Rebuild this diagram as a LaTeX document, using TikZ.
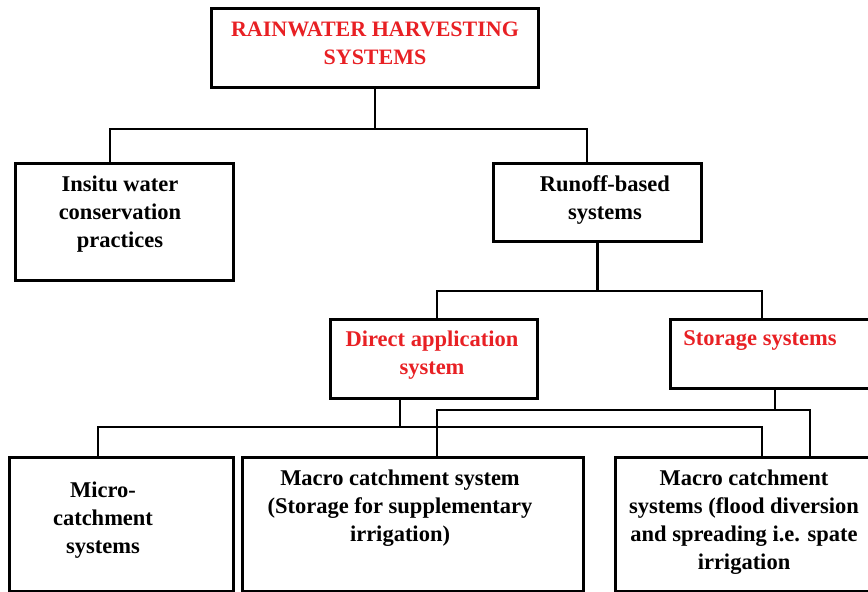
\documentclass[tikz,border=0pt]{standalone}
\usepackage{fontspec}
\setmainfont{Liberation Serif}
\definecolor{rwred}{RGB}{232,32,36}
\begin{document}
\begin{tikzpicture}[x=1pt,y=-1pt,
  box/.style={draw=black, line width=2.8pt, rectangle, inner sep=0pt, anchor=north west},
  txt/.style={font=\bfseries\fontsize{22.5}{28}\selectfont, align=center, inner sep=0pt},
  rtxt/.style={txt, text=rwred},
  con/.style={line width=2.4pt}]
\useasboundingbox (0,0) rectangle (868,592);
% boxes
\node[box, minimum width=327, minimum height=79] (top) at (210,7) {};
\node[box, minimum width=218, minimum height=117] (insitu) at (14,162) {};
\node[box, minimum width=208, minimum height=78] (runoff) at (492,162) {};
\node[box, minimum width=207, minimum height=79] (direct) at (329,318) {};
\node[box, minimum width=210, minimum height=69] (storage) at (669,318) {};
\node[box, minimum width=224, minimum height=134] (micro) at (8,456) {};
\node[box, minimum width=341, minimum height=134] (macro) at (241,456) {};
\node[box, minimum width=265, minimum height=134] (macrosys) at (614,456) {};
% texts
\node[rtxt, font=\bfseries\fontsize{22}{28}\selectfont] (toptxt) at (375,43) {RAINWATER HARVESTING\\SYSTEMS};
\node[txt] (insitutxt) at (120,214) {Insitu water\\conservation\\practices};
\node[txt] (runofftxt) at (605,200) {Runoff-based\\systems};
\node[rtxt] (directtxt) at (432,355) {Direct application\\system};
\node[rtxt] (storagetxt) at (760,341) {Storage systems};
\node[txt] (microtxt) at (103,520) {Micro-\\catchment\\systems};
\node[txt] (macrotxt) at (400,508) {Macro catchment system\\(Storage for supplementary\\irrigation)};
\node[txt] (macrosystxt) at (744,522) {Macro catchment\\systems (flood diversion\\and spreading i.e. spate\\irrigation};
% junctions
\coordinate (a1) at (110,129); \coordinate (a2) at (587,129);
\coordinate (b1) at (437,291); \coordinate (b2) at (762,291);
\coordinate (c0) at (400,427); \coordinate (c1) at (98,427); \coordinate (c2) at (762,427);
\coordinate (d0) at (775,410); \coordinate (d1) at (437,410); \coordinate (d2) at (810,410);
% connectors
\draw[con] (top.south) -- (top.south |- a1);
\draw[con] (insitu.north -| a1) -- (a1) -- (a2) -- (runoff.north -| a2);
\draw[con] (runoff.south) -- (runoff.south |- b1);
\draw[con] (direct.north -| b1) -- (b1) -- (b2) -- (storage.north -| b2);
\draw[con] (direct.south -| c0) -- (c0);
\draw[con] (micro.north -| c1) -- (c1) -- (c2) -- (macrosys.north -| c2);
\draw[con] (storage.south -| d0) -- (d0);
\draw[con] (macro.north -| d1) -- (d1) -- (d2) -- (macrosys.north -| d2);
\end{tikzpicture}
\end{document}
